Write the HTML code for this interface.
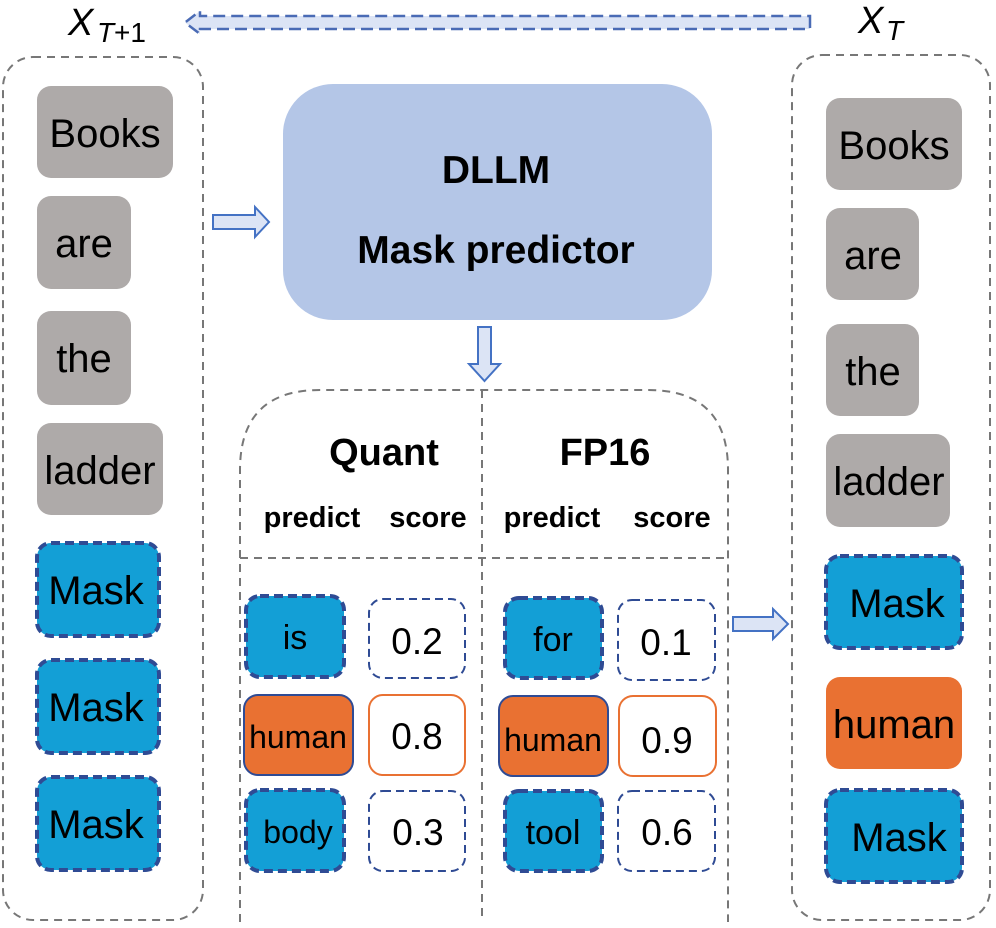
<!DOCTYPE html>
<html><head><meta charset="utf-8"><style>html,body{margin:0;padding:0;background:#fff}svg{display:block}text{font-family:"Liberation Sans",Arial,sans-serif}</style></head>
<body>
<svg width="996" height="928" viewBox="0 0 996 928" xmlns="http://www.w3.org/2000/svg">
<path d="M810,16 L810,29 L200,29 L200,34 L185,22.5 L200,11 L200,16 Z" fill="#dce4f5" stroke="#4a6bb5" stroke-width="2.5" stroke-dasharray="12,6"/>
<text x="68" y="35" font-family="Liberation Serif,serif" font-style="italic" font-size="38">X</text>
<text x="97" y="42" font-family="Liberation Serif,serif" font-style="italic" font-size="28">T</text>
<text x="114" y="42" font-family="Liberation Serif,serif" font-size="28">+1</text>
<text x="858" y="33" font-family="Liberation Serif,serif" font-style="italic" font-size="38">X</text>
<text x="886" y="40" font-family="Liberation Serif,serif" font-style="italic" font-size="28">T</text>

<rect x="3" y="57" width="200" height="863" rx="30" fill="none" stroke="#777" stroke-width="2" stroke-dasharray="8,6"/>
<rect x="792" y="55" width="198" height="865" rx="30" fill="none" stroke="#777" stroke-width="2" stroke-dasharray="8,6"/>

<g font-size="40" text-anchor="middle">
<rect x="37" y="86" width="136" height="92" rx="14" fill="#aeaaa9"/><text x="105" y="147">Books</text>
<rect x="37" y="196" width="94" height="93" rx="14" fill="#aeaaa9"/><text x="84" y="257">are</text>
<rect x="37" y="311" width="94" height="94" rx="14" fill="#aeaaa9"/><text x="84" y="372">the</text>
<rect x="37" y="423" width="126" height="92" rx="14" fill="#aeaaa9"/><text x="100" y="484">ladder</text>
<g fill="#139fd6" stroke="#2f4b94" stroke-width="4" stroke-dasharray="9,5">
<rect x="37" y="543" width="122" height="93" rx="14"/>
<rect x="37" y="660" width="122" height="93" rx="14"/>
<rect x="37" y="777" width="122" height="93" rx="14"/>
</g>
<text x="96" y="604">Mask</text><text x="96" y="721">Mask</text><text x="96" y="838">Mask</text>

<rect x="826" y="98" width="136" height="92" rx="14" fill="#aeaaa9"/><text x="894" y="159">Books</text>
<rect x="826" y="208" width="93" height="92" rx="14" fill="#aeaaa9"/><text x="873" y="269">are</text>
<rect x="826" y="324" width="93" height="92" rx="14" fill="#aeaaa9"/><text x="873" y="385">the</text>
<rect x="826" y="434" width="124" height="93" rx="14" fill="#aeaaa9"/><text x="889" y="495">ladder</text>
<g fill="#139fd6" stroke="#2f4b94" stroke-width="4" stroke-dasharray="9,5">
<rect x="826" y="556" width="136" height="92" rx="14"/>
<rect x="826" y="790" width="136" height="92" rx="14"/>
</g>
<rect x="826" y="677" width="136" height="92" rx="14" fill="#e97132"/>
<text x="897" y="617">Mask</text><text x="894" y="738">human</text><text x="899" y="851">Mask</text>
</g>

<rect x="283" y="84" width="429" height="236" rx="50" fill="#b4c6e7"/>
<text x="496" y="183" font-size="39" font-weight="bold" text-anchor="middle">DLLM</text>
<text x="496" y="263" font-size="39" font-weight="bold" text-anchor="middle">Mask predictor</text>

<path d="M213,215 L255,215 L255,207 L269,222 L255,237 L255,229 L213,229 Z" fill="#dce4f5" stroke="#4472c4" stroke-width="2"/>
<path d="M478,327 L491,327 L491,364 L500,364 L484.5,381 L469,364 L478,364 Z" fill="#dce4f5" stroke="#4472c4" stroke-width="2"/>
<path d="M733,617 L773,617 L773,609 L788,624 L773,639 L773,631 L733,631 Z" fill="#dce4f5" stroke="#4472c4" stroke-width="2"/>

<path d="M240,922 L240,470 Q240,390 320,390 L648,390 Q728,390 728,470 L728,922" fill="none" stroke="#777" stroke-width="2" stroke-dasharray="8,6"/>
<line x1="482" y1="390" x2="482" y2="922" stroke="#777" stroke-width="2" stroke-dasharray="8,6"/>
<line x1="240" y1="558" x2="728" y2="558" stroke="#777" stroke-width="2" stroke-dasharray="8,6"/>
<text x="384" y="465" font-size="38" font-weight="bold" text-anchor="middle">Quant</text>
<text x="605" y="465" font-size="38" font-weight="bold" text-anchor="middle">FP16</text>
<g font-size="29" font-weight="bold" text-anchor="middle">
<text x="312" y="527">predict</text><text x="428" y="527">score</text>
<text x="552" y="527">predict</text><text x="672" y="527">score</text>
</g>

<g fill="#139fd6" stroke="#2f4b94" stroke-width="4" stroke-dasharray="9,5">
<rect x="246" y="596" width="98" height="81" rx="14"/>
<rect x="246" y="790" width="98" height="81" rx="14"/>
<rect x="505" y="598" width="97" height="80" rx="14"/>
<rect x="505" y="791" width="97" height="80" rx="14"/>
</g>
<g fill="#fff" stroke="#2f4b94" stroke-width="2" stroke-dasharray="8,5">
<rect x="369" y="599" width="96" height="79" rx="14"/>
<rect x="369" y="791" width="96" height="80" rx="14"/>
<rect x="618" y="600" width="97" height="80" rx="14"/>
<rect x="618" y="791" width="97" height="80" rx="14"/>
</g>
<rect x="244" y="695" width="109" height="80" rx="14" fill="#e97132" stroke="#2f4b94" stroke-width="2"/>
<rect x="499" y="696" width="109" height="80" rx="14" fill="#e97132" stroke="#2f4b94" stroke-width="2"/>
<rect x="369" y="695" width="96" height="80" rx="14" fill="#fff" stroke="#e97132" stroke-width="2"/>
<rect x="619" y="696" width="97" height="80" rx="14" fill="#fff" stroke="#e97132" stroke-width="2"/>

<g text-anchor="middle">
<text x="295" y="649" font-size="34">is</text><text x="417" y="654" font-size="37">0.2</text>
<text x="553" y="651" font-size="34">for</text><text x="666" y="655" font-size="37">0.1</text>
<text x="298" y="748" font-size="32">human</text><text x="417" y="749" font-size="37">0.8</text>
<text x="553" y="751" font-size="32">human</text><text x="667" y="753" font-size="37">0.9</text>
<text x="298" y="843" font-size="32">body</text><text x="418" y="845" font-size="37">0.3</text>
<text x="553" y="844" font-size="34">tool</text><text x="667" y="845" font-size="37">0.6</text>
</g>
</svg>
</body></html>
